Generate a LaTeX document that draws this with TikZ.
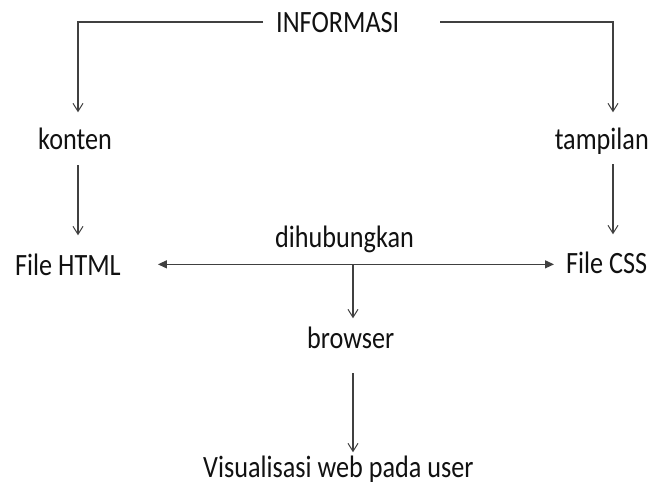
\documentclass[tikz,border=0pt]{standalone}
\usepackage{fontspec}
\setmainfont[FakeStretch=0.845]{Carlito}
\usetikzlibrary{arrows.meta}
\definecolor{txt}{HTML}{111111}
\definecolor{ln}{HTML}{404040}
\tikzset{
  lbl/.style={inner sep=0pt, anchor=base west, text=txt, font=\fontsize{31pt}{31pt}\selectfont},
  arr/.style={draw=ln, line width=1.2pt, -{Straight Barb[length=8pt,width=10pt,line width=1pt]}},
  darr/.style={draw=ln, line width=1.2pt, {Triangle[length=9pt,width=8pt]}-{Triangle[length=9pt,width=8pt]}}
}
\begin{document}
\begin{tikzpicture}[x=1pt,y=-1pt]
\useasboundingbox (0,0) rectangle (654,491);
\node[lbl] (info) at (276,32) {INFORMASI};
\node[lbl] (konten) at (38,149) {konten};
\node[lbl,anchor=base east] (tampilan) at (649,149) {tampilan};
\node[lbl] (html) at (15,275) {File HTML};
\node[lbl] (css) at (566,273) {File CSS};
\node[lbl] (dih) at (275,247) {dihubungkan};
\node[lbl] (browser) at (307,348) {browser};
\node[lbl] (vis) at (203,477) {Visualisasi web pada user};

\draw[arr] ([xshift=-13pt]info.west) -| ([xshift=40pt,yshift=15pt]konten.north west);
\draw[arr] ([xshift=41pt]info.east) -| ([xshift=-36pt,yshift=15pt]tampilan.north east);
\draw[arr,shorten >=18pt] ([xshift=40pt,yshift=-16pt]konten.south west) -- ([xshift=40pt]konten.south west |- html.north);
\draw[arr,shorten >=17pt] ([xshift=-36pt,yshift=-10pt]tampilan.south east) -- ([xshift=-36pt]tampilan.south east |- css.north);
\draw[darr,shorten <=37pt,shorten >=12pt] (html.east) -- (css.west |- html.east);
\draw[arr] ([xshift=46pt]browser.north west |- html.east) -- ([xshift=46pt,yshift=8pt]browser.north west);
\draw[arr,shorten >=3pt] ([xshift=46pt,yshift=-25pt]browser.south west) -- ([xshift=46pt]browser.south west |- vis.north);
\end{tikzpicture}
\end{document}
